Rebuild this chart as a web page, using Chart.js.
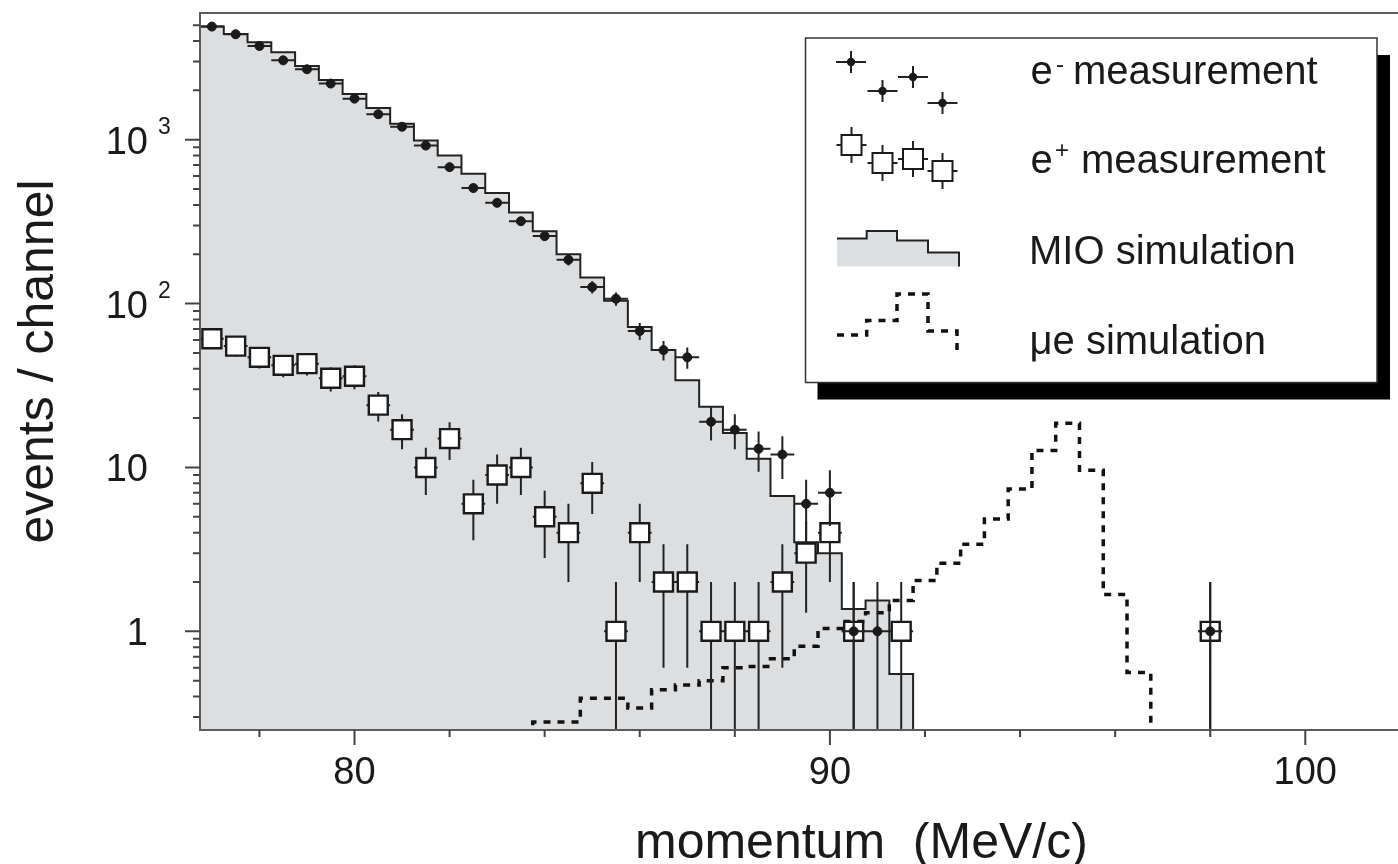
<!DOCTYPE html>
<html>
<head>
<meta charset="utf-8">
<title>Momentum spectra: e- / e+ measurement, MIO and mu-e simulation</title>
<script src="https://cdn.jsdelivr.net/npm/chart.js@4.4.1/dist/chart.umd.min.js"></script>
<style>
  html, body { margin: 0; padding: 0; background: #fff; overflow: hidden; }
  .chart-box { position: relative; width: 1398px; height: 864px; }
</style>
</head>
<body>
<div class="chart-box"><canvas id="spectrum"></canvas></div>
<script>
// ---- data (momentum in MeV/c, events per 0.5 MeV/c channel) ----
const binWidth = 0.5;

// e- measurement (filled dots)
const eMinusMomentum = [77.0, 77.5, 78.0, 78.5, 79.0, 79.5, 80.0, 80.5, 81.0, 81.5, 82.0, 82.5, 83.0, 83.5, 84.0,
                        84.5, 85.0, 85.5, 86.0, 86.5, 87.0, 87.5, 88.0, 88.5, 89.0, 89.5, 90.0, 90.5, 91.0, 98.0];
const eMinusCounts = [4900, 4400, 3730, 3050, 2690, 2200, 1780, 1430, 1200, 920, 680, 507, 412, 318, 258,
                      185, 126, 107, 68, 52, 47, 19, 17, 13, 12, 6, 7, 1, 1, 1];
const eMinusErrors = [70, 66, 61, 55, 52, 47, 42, 38, 35, 30, 26, 22, 20, 18, 16,
                      14, 11, 10, 8, 7, 7, 4.4, 4.1, 3.6, 3.5, 2.4, 2.6, 1, 1, 1];

// e+ measurement (open squares)
const ePlusMomentum = [77.0, 77.5, 78.0, 78.5, 79.0, 79.5, 80.0, 80.5, 81.0, 81.5, 82.0, 82.5, 83.0, 83.5, 84.0,
                       84.5, 85.0, 85.5, 86.0, 86.5, 87.0, 87.5, 88.0, 88.5, 89.0, 89.5, 90.0, 90.5, 91.5, 98.0];
const ePlusCounts = [61, 55, 47, 42, 43, 35, 36, 24, 17, 10, 15, 6, 9, 10, 5,
                     4, 8, 1, 4, 2, 2, 1, 1, 1, 2, 3, 4, 1, 1, 1];
const ePlusErrors = [7.8, 7.4, 6.9, 6.5, 6.6, 5.9, 6.0, 4.9, 4.1, 3.2, 3.9, 2.4, 3.0, 3.2, 2.2,
                     2.0, 2.8, 1, 2.0, 1.4, 1.4, 1, 1, 1, 1.4, 1.7, 2.0, 1, 1, 1];

// MIO simulation (grey histogram), bin centres
const mioMomentum = [77.0, 77.5, 78.0, 78.5, 79.0, 79.5, 80.0, 80.5, 81.0, 81.5, 82.0, 82.5, 83.0, 83.5, 84.0,
                     84.5, 85.0, 85.5, 86.0, 86.5, 87.0, 87.5, 88.0, 88.5, 89.0, 89.5, 90.0, 90.5, 91.0, 91.5];
const mioCounts = [4900, 4420, 3930, 3420, 2820, 2310, 1900, 1560, 1250, 990, 800, 620, 472, 360, 276,
                   200, 144, 104, 72, 52, 34, 23.5, 16.2, 11.3, 6.7, 3.5, 3.0, 1.37, 1.54, 0.55];

// mu-e simulation (dashed histogram), bin centres
const mueMomentum = [84.0, 84.5, 85.0, 85.5, 86.0, 86.5, 87.0, 87.5, 88.0, 88.5, 89.0, 89.5, 90.0,
                     90.5, 91.0, 91.5, 92.0, 92.5, 93.0, 93.5, 94.0, 94.5, 95.0, 95.5, 96.0, 96.5];
const mueCounts = [0.28, 0.28, 0.39, 0.39, 0.34, 0.44, 0.47, 0.50, 0.60, 0.61, 0.68, 0.81, 1.04,
                   1.15, 1.30, 1.54, 2.04, 2.6, 3.4, 4.85, 7.4, 12.7, 18.6, 9.6, 1.68, 0.56];

// axes
const xMajorTicks = [80, 90, 100];
const xMinorTicks = [78, 82, 84, 86, 88, 92, 94, 96, 98];
const yMajorTicks = [1, 10, 100, 1000];
const yMinorTicks = [0.3, 0.4, 0.5, 0.6, 0.7, 0.8, 0.9, 2, 3, 4, 5, 6, 7, 8, 9,
                     20, 30, 40, 50, 60, 70, 80, 90, 200, 300, 400, 500, 600, 700, 800, 900,
                     2000, 3000, 4000, 5000];

// ---- styling ----
const fontFamily = "'Liberation Sans', Arial, Helvetica, sans-serif";
const inkColor = '#1a1a1a';
const frameColor = '#5c5c5c';
const mioGrey = '#dddee0';
const zeroLevel = 0.1; // stands in for an empty channel, sits below the log axis

// histogram outline: each bin becomes a flat top between its edges
function histPoints(centres, counts) {
    const half = binWidth / 2;
    const pts = [{ x: centres[0] - half, y: zeroLevel }];
    centres.forEach((c, i) => {
        pts.push({ x: c - half, y: counts[i] });
        pts.push({ x: c + half, y: counts[i] });
    });
    pts.push({ x: centres[centres.length - 1] + half, y: zeroLevel });
    return pts;
}

// vertical (count) and horizontal (channel width) bars, broken by nulls
function errorBars(centres, counts, errors) {
    const half = binWidth / 2;
    const pts = [];
    centres.forEach((c, i) => {
        const low = counts[i] - errors[i];
        pts.push({ x: c, y: low > 0 ? low : zeroLevel }, { x: c, y: counts[i] + errors[i] }, { x: c, y: null });
        pts.push({ x: c - half, y: counts[i] }, { x: c + half, y: counts[i] }, { x: c, y: null });
    });
    return pts;
}

function pairs(xs, ys) {
    return xs.map((x, i) => ({ x: x, y: ys[i] }));
}

// legend box with drop shadow, drawn in the top right of the frame
function drawLegend(ctx) {
    const box = { left: 805.5, top: 38, right: 1377, bottom: 382.5 };
    ctx.fillStyle = '#000';
    ctx.fillRect(box.left + 12, box.top + 17, box.right - box.left + 1, box.bottom - box.top);
    ctx.fillStyle = '#fff';
    ctx.fillRect(box.left, box.top, box.right - box.left, box.bottom - box.top);
    ctx.strokeStyle = '#333';
    ctx.lineWidth = 1.5;
    ctx.strokeRect(box.left, box.top, box.right - box.left, box.bottom - box.top);

    // e- sample: dots with crosses
    ctx.strokeStyle = '#222';
    ctx.lineWidth = 2;
    [[851, 62], [882.5, 91], [913, 77], [942.5, 103]].forEach(([cx, cy]) => {
        ctx.beginPath();
        ctx.moveTo(cx - 15, cy); ctx.lineTo(cx + 15, cy);
        ctx.moveTo(cx, cy - 11); ctx.lineTo(cx, cy + 11);
        ctx.stroke();
        ctx.fillStyle = inkColor;
        ctx.beginPath();
        ctx.arc(cx, cy, 4.2, 0, Math.PI * 2);
        ctx.fill();
    });

    // e+ sample: open squares with bars
    [[851.5, 145], [882.5, 163], [913, 159], [942.5, 171]].forEach(([cx, cy]) => {
        ctx.strokeStyle = '#222';
        ctx.lineWidth = 2;
        ctx.beginPath();
        ctx.moveTo(cx - 15, cy); ctx.lineTo(cx + 15, cy);
        ctx.moveTo(cx, cy - 18); ctx.lineTo(cx, cy + 18);
        ctx.stroke();
        ctx.fillStyle = '#fff';
        ctx.fillRect(cx - 10, cy - 10, 20, 20);
        ctx.strokeStyle = inkColor;
        ctx.lineWidth = 2;
        ctx.strokeRect(cx - 10, cy - 10, 20, 20);
    });

    // MIO sample: small grey histogram
    const mioEdges = [837, 866.7, 897, 928, 959];
    const mioLevels = [238.5, 231, 240.5, 252.5];
    const base = 266.5;
    ctx.beginPath();
    ctx.moveTo(mioEdges[0], base);
    mioLevels.forEach((lv, i) => { ctx.lineTo(mioEdges[i], lv); ctx.lineTo(mioEdges[i + 1], lv); });
    ctx.lineTo(mioEdges[4], base);
    ctx.closePath();
    ctx.fillStyle = mioGrey;
    ctx.fill();
    ctx.beginPath();
    ctx.moveTo(mioEdges[0], mioLevels[0]);
    mioLevels.forEach((lv, i) => { ctx.lineTo(mioEdges[i], lv); ctx.lineTo(mioEdges[i + 1], lv); });
    ctx.lineTo(mioEdges[4], base);
    ctx.strokeStyle = '#222';
    ctx.lineWidth = 2;
    ctx.stroke();

    // mu-e sample: dashed peak
    const mueEdges = [837, 866.7, 897, 928, 957];
    const mueLevels = [335, 320.5, 294, 331];
    ctx.beginPath();
    ctx.moveTo(mueEdges[0], mueLevels[0]);
    mueLevels.forEach((lv, i) => { ctx.lineTo(mueEdges[i], lv); ctx.lineTo(mueEdges[i + 1], lv); });
    ctx.lineTo(mueEdges[4], 356);
    ctx.setLineDash([7, 7]);
    ctx.strokeStyle = '#111';
    ctx.lineWidth = 3.5;
    ctx.stroke();
    ctx.setLineDash([]);

    // labels
    ctx.fillStyle = inkColor;
    ctx.textAlign = 'left';
    ctx.textBaseline = 'alphabetic';
    ctx.font = `40px ${fontFamily}`;
    ctx.fillText('e', 1030.5, 83.5);
    ctx.fillText('measurement', 1073, 83.5);
    ctx.fillText('e', 1030.5, 172.5);
    ctx.fillText('measurement', 1081, 172.5);
    ctx.fillText('MIO simulation', 1029, 263.5);
    ctx.fillText('\u03bce simulation', 1029.5, 353.5);
    ctx.font = `24px ${fontFamily}`;
    ctx.fillText('-', 1056, 72);
    ctx.fillText('+', 1055, 158);
}

const frameAndLegend = {
    id: 'frameAndLegend',
    afterDraw(chart) {
        const { ctx, chartArea: a } = chart;
        const xs = chart.scales.x;
        const ys = chart.scales.y;
        ctx.save();

        // frame: left and bottom axes plus the top rule
        ctx.strokeStyle = frameColor;
        ctx.lineWidth = 2;
        ctx.beginPath();
        ctx.moveTo(a.right, a.top); ctx.lineTo(a.left, a.top);
        ctx.lineTo(a.left, a.bottom); ctx.lineTo(a.right, a.bottom);
        ctx.stroke();

        // tick marks, pointing out of the frame
        ctx.strokeStyle = '#444';
        ctx.beginPath();
        xMajorTicks.forEach(v => { const px = xs.getPixelForValue(v); ctx.moveTo(px, a.bottom); ctx.lineTo(px, a.bottom + 15); });
        xMinorTicks.forEach(v => { const px = xs.getPixelForValue(v); ctx.moveTo(px, a.bottom); ctx.lineTo(px, a.bottom + 7); });
        yMajorTicks.forEach(v => { const py = ys.getPixelForValue(v); ctx.moveTo(a.left, py); ctx.lineTo(a.left - 15, py); });
        yMinorTicks.forEach(v => { const py = ys.getPixelForValue(v); ctx.moveTo(a.left, py); ctx.lineTo(a.left - 7, py); });
        ctx.stroke();

        // y tick labels: 1, 10, then powers of ten with a raised exponent
        ctx.fillStyle = inkColor;
        ctx.textBaseline = 'alphabetic';
        yMajorTicks.forEach(v => {
            const py = ys.getPixelForValue(v);
            const exp = Math.round(Math.log10(v));
            ctx.font = `38px ${fontFamily}`;
            ctx.textAlign = 'right';
            if (exp < 2) {
                ctx.fillText(String(v), 148, py + 14);
            } else {
                ctx.fillText('10', 148, py + 14);
                ctx.font = `23px ${fontFamily}`;
                ctx.textAlign = 'left';
                ctx.fillText(String(exp), 158, py - 6);
            }
        });

        // axis titles
        ctx.font = `50px ${fontFamily}`;
        ctx.textAlign = 'left';
        ctx.fillText('momentum  (MeV/c)', 635, 858);
        ctx.save();
        ctx.translate(53, 361.5);
        ctx.rotate(-Math.PI / 2);
        ctx.textAlign = 'center';
        ctx.fillText('events / channel', 0, 0);
        ctx.restore();

        drawLegend(ctx);
        ctx.restore();
    }
};

document.addEventListener('DOMContentLoaded', function() {
    const canvas = document.getElementById('spectrum');

    new Chart(canvas, {
        type: 'line',
        data: {
            datasets: [
                {
                    label: 'e- measurement',
                    data: pairs(eMinusMomentum, eMinusCounts),
                    showLine: false,
                    pointStyle: 'circle',
                    pointRadius: 4.5,
                    pointBackgroundColor: inkColor,
                    pointBorderColor: inkColor,
                    pointBorderWidth: 1,
                    order: 1
                },
                {
                    label: 'e- errors',
                    data: errorBars(eMinusMomentum, eMinusCounts, eMinusErrors),
                    borderColor: '#222',
                    borderWidth: 2,
                    pointRadius: 0,
                    spanGaps: false,
                    clip: 0,
                    order: 2
                },
                {
                    label: 'e+ measurement',
                    data: pairs(ePlusMomentum, ePlusCounts),
                    showLine: false,
                    pointStyle: 'rect',
                    pointRadius: 13.4,
                    pointBackgroundColor: '#fff',
                    pointBorderColor: inkColor,
                    pointBorderWidth: 2.4,
                    order: 3
                },
                {
                    label: 'e+ errors',
                    data: errorBars(ePlusMomentum, ePlusCounts, ePlusErrors),
                    borderColor: '#222',
                    borderWidth: 2,
                    pointRadius: 0,
                    spanGaps: false,
                    clip: 0,
                    order: 4
                },
                {
                    label: 'mu-e simulation',
                    data: histPoints(mueMomentum, mueCounts),
                    borderColor: '#111',
                    borderWidth: 3.5,
                    borderDash: [7, 7],
                    pointRadius: 0,
                    fill: false,
                    tension: 0,
                    clip: 0,
                    order: 5
                },
                {
                    label: 'MIO simulation',
                    data: histPoints(mioMomentum, mioCounts),
                    borderColor: '#222',
                    borderWidth: 2,
                    backgroundColor: mioGrey,
                    fill: 'start',
                    pointRadius: 0,
                    tension: 0,
                    clip: 0,
                    order: 6
                }
            ]
        },
        options: {
            responsive: true,
            maintainAspectRatio: false,
            animation: false,
            events: [],
            layout: {
                autoPadding: false,
                padding: { top: 13, left: 0, right: 0, bottom: 0 }
            },
            plugins: {
                legend: { display: false },
                tooltip: { enabled: false }
            },
            scales: {
                x: {
                    type: 'linear',
                    min: 76.75,
                    max: 101.95,
                    grid: { display: false },
                    border: { display: false },
                    afterBuildTicks: scale => { scale.ticks = xMajorTicks.map(v => ({ value: v })); },
                    afterFit: scale => {
                        scale.height = 134;
                        scale.paddingLeft = 0;
                        scale.paddingRight = 0;
                    },
                    ticks: {
                        color: inkColor,
                        font: { family: fontFamily, size: 38 },
                        padding: 13,
                        maxRotation: 0,
                        autoSkip: false
                    }
                },
                y: {
                    type: 'logarithmic',
                    min: 0.25,
                    max: 5930,
                    grid: { display: false },
                    border: { display: false },
                    ticks: { display: false },
                    afterFit: scale => {
                        scale.width = 200;
                        scale.paddingTop = 0;
                        scale.paddingBottom = 0;
                    }
                }
            }
        },
        plugins: [frameAndLegend]
    });
});
</script>
</body>
</html>
